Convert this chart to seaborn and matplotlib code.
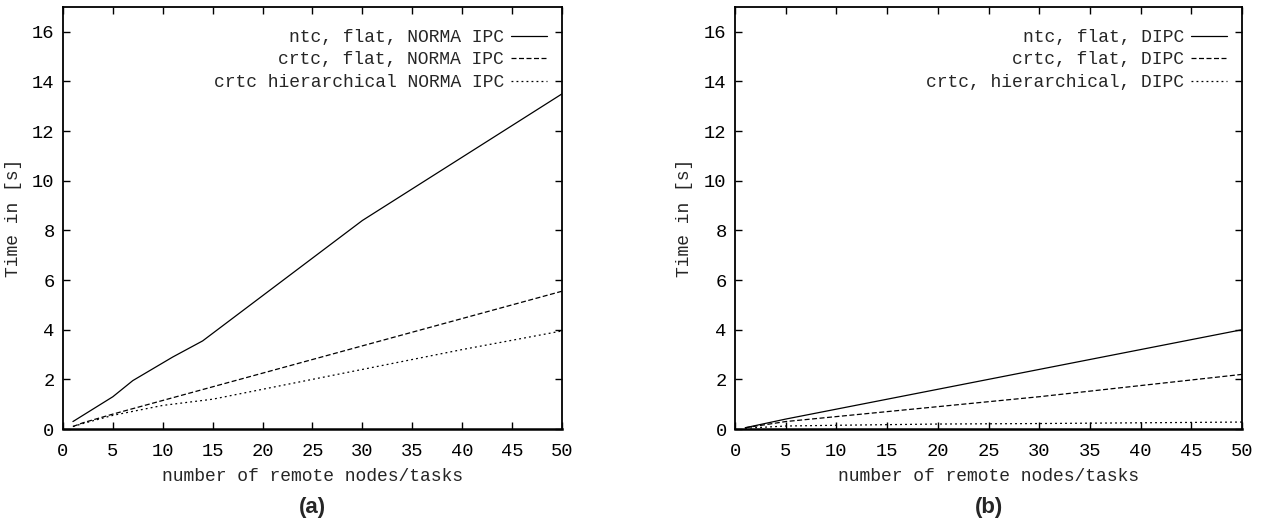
import matplotlib
matplotlib.use("Agg")
import matplotlib.pyplot as plt
import seaborn as sns
import pandas as pd

# ---- data (a): NORMA IPC ----
a_ntc_x = [1, 2, 5, 7, 11, 14, 30, 50]
a_ntc_y = [0.3, 0.55, 1.3, 1.95, 2.9, 3.55, 8.4, 13.5]
a_crtc_x = [1, 2, 5, 10, 15, 20, 30, 40, 50]
a_crtc_y = [0.1, 0.25, 0.6, 1.15, 1.7, 2.25, 3.35, 4.45, 5.55]
a_hier_x = [1, 2, 5, 10, 15, 20, 30, 40, 50]
a_hier_y = [0.1, 0.22, 0.55, 0.95, 1.2, 1.6, 2.4, 3.2, 3.95]

# ---- data (b): DIPC ----
b_ntc_x = [1, 5, 10, 20, 30, 40, 50]
b_ntc_y = [0.05, 0.4, 0.8, 1.6, 2.4, 3.2, 4.0]
b_crtc_x = [1, 5, 10, 20, 25, 30, 40, 50]
b_crtc_y = [0.05, 0.3, 0.5, 0.9, 1.1, 1.3, 1.75, 2.2]
b_hier_x = [1, 5, 10, 20, 30, 40, 50]
b_hier_y = [0.03, 0.12, 0.15, 0.2, 0.22, 0.25, 0.28]

a_labels = ["ntc, flat, NORMA IPC", "crtc, flat, NORMA IPC", "crtc hierarchical NORMA IPC"]
b_labels = ["ntc, flat, DIPC", "crtc, flat, DIPC", "crtc, hierarchical, DIPC"]
xlabel = "number of remote nodes/tasks"
ylabel = "Time in [s]"
panel_labels = ["(a)", "(b)"]
xticks = list(range(0, 51, 5))
yticks = list(range(0, 17, 2))

sns.set_style("ticks")
mono = ["Liberation Mono", "DejaVu Sans Mono"]
plt.rcParams["font.family"] = mono

styles = ["-", (0, (4, 2)), (0, (1.5, 2.5))]

fig = plt.figure(figsize=(12.64, 5.2), dpi=100)
ax_a = fig.add_axes([0.0498, 0.175, 0.3948, 0.8115])
ax_b = fig.add_axes([0.5815, 0.175, 0.4011, 0.8115])

panels = [
    (ax_a, [(a_ntc_x, a_ntc_y), (a_crtc_x, a_crtc_y), (a_hier_x, a_hier_y)], a_labels, panel_labels[0]),
    (ax_b, [(b_ntc_x, b_ntc_y), (b_crtc_x, b_crtc_y), (b_hier_x, b_hier_y)], b_labels, panel_labels[1]),
]

for ax, series, labels, plabel in panels:
    for (xs, ys), lab, ls in zip(series, labels, styles):
        df = pd.DataFrame({"x": xs, "y": ys})
        sns.lineplot(data=df, x="x", y="y", ax=ax, color="black", linewidth=0.9,
                     linestyle=ls, label=lab)
    ax.set_xlim(0, 50)
    ax.set_ylim(0, 17)
    ax.set_xticks(xticks)
    ax.set_yticks(yticks)
    ax.tick_params(direction="in", length=5, width=1, top=True, right=True,
                   labelsize=13.5, colors="black")
    ax.tick_params(axis="x", pad=10)
    ax.tick_params(axis="y", pad=6)
    for sp in ax.spines.values():
        sp.set_linewidth(1.3)
        sp.set_color("black")
    ax.spines["bottom"].set_linewidth(1.8)
    ax.set_xlabel(xlabel, family=mono, fontsize=13)
    ax.set_ylabel(ylabel, family=mono, fontsize=13)
    ax.xaxis.set_label_coords(0.5, -0.093)
    ax.yaxis.set_label_coords(-0.082, 0.5)
    leg = ax.legend(loc="upper right", bbox_to_anchor=(0.985, 0.965), frameon=False,
                    markerfirst=False, handlelength=2.0, handletextpad=0.4,
                    labelspacing=0.3, borderaxespad=0.0, prop={"family": mono, "size": 13})
    for h in leg.get_lines():
        h.set_linewidth(0.9)
    ax.text(0.5, -0.16, plabel, transform=ax.transAxes, ha="center", va="top",
            fontsize=16, fontweight="bold", family=["Liberation Sans", "DejaVu Sans"])

fig.savefig("out.png", dpi=100)
